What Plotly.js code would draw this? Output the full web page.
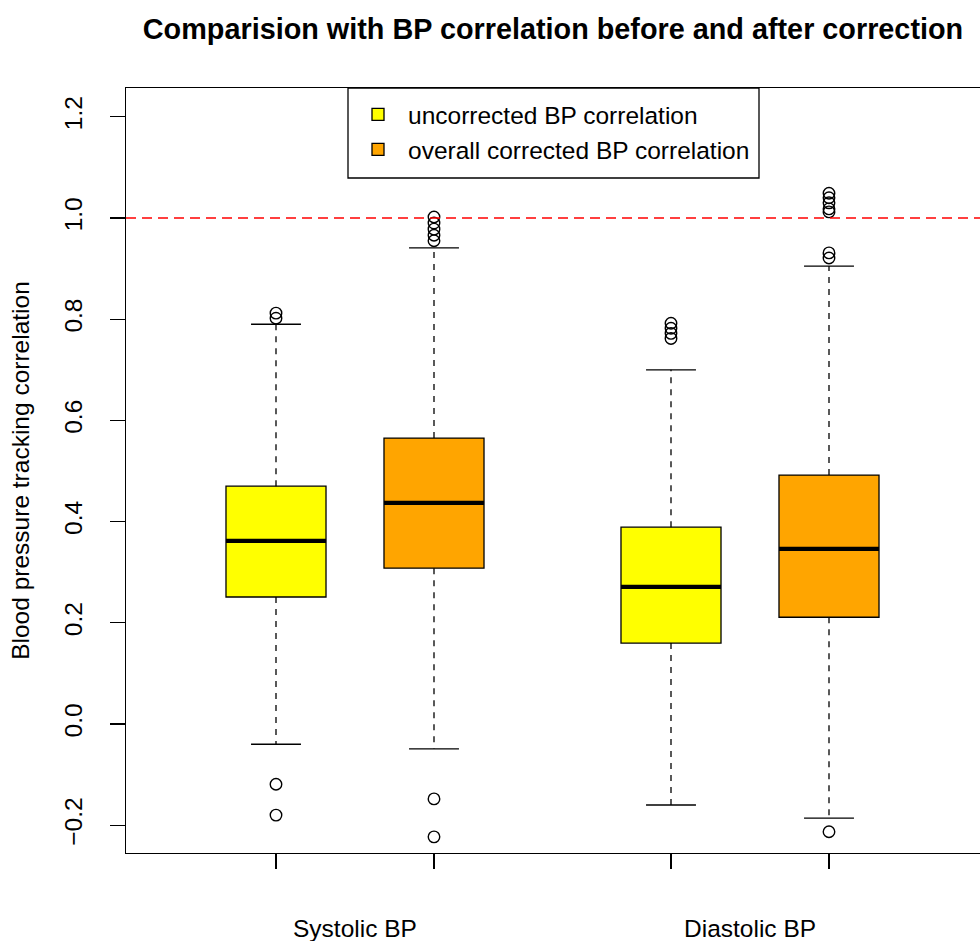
<!DOCTYPE html>
<html>
<head>
<meta charset="utf-8">
<script src="https://cdn.plot.ly/plotly-3.0.1.min.js"></script>
<style>
  html, body { margin: 0; padding: 0; background: #ffffff; }
  #chart { width: 980px; height: 941px; }
</style>
</head>
<body>
<div id="chart"></div>
<script>
// Group labels along the x axis and where they sit
const groups = ['Systolic BP', 'Diastolic BP'];
const groupCenters = [1.5, 4.0];

// Two series: uncorrected vs. corrected correlation
const seriesNames = ['uncorrected BP correlation', 'overall corrected BP correlation'];
const seriesColors = ['#FFFF00', '#FFA500'];
// Box positions per series: [Systolic, Diastolic]
const positions = [[1, 3.5], [2, 4.5]];

// Box statistics per series: [Systolic, Diastolic]
const q1 = [[0.251, 0.160], [0.308, 0.211]];
const medians = [[0.362, 0.271], [0.437, 0.346]];
const q3 = [[0.470, 0.389], [0.565, 0.492]];
const lowerWhisker = [[-0.040, -0.160], [-0.049, -0.186]];
const upperWhisker = [[0.790, 0.700], [0.941, 0.905]];

// Outlying values per series and group
const outliers = [
  [[0.812, 0.802, -0.119, -0.180], [0.792, 0.782, 0.772, 0.762]],
  [[1.002, 0.990, 0.978, 0.966, 0.955, -0.148, -0.223],
   [1.049, 1.040, 1.030, 1.018, 1.012, 0.931, 0.921, -0.213]]
];

const yTicks = [-0.2, 0.0, 0.2, 0.4, 0.6, 0.8, 1.0, 1.2];
const referenceLevel = 1.0;

// Drawing constants
const FONT = 'Liberation Sans, Arial, Helvetica, sans-serif';
const BOX_W = 0.633;       // box width in x units
const CAP_HALF = 0.158;    // whisker cap half-width in x units
const LW = 1.3;

const traces = [];

// Dashed whiskers and solid caps
positions.forEach((pos, s) => {
  const wx = [], wy = [], cx = [], cy = [];
  pos.forEach((p, g) => {
    wx.push(p, p, null, p, p, null);
    wy.push(q3[s][g], upperWhisker[s][g], null, q1[s][g], lowerWhisker[s][g], null);
    cx.push(p - CAP_HALF, p + CAP_HALF, null, p - CAP_HALF, p + CAP_HALF, null);
    cy.push(upperWhisker[s][g], upperWhisker[s][g], null, lowerWhisker[s][g], lowerWhisker[s][g], null);
  });
  traces.push({
    type: 'scatter', mode: 'lines', x: wx, y: wy, showlegend: false, hoverinfo: 'skip',
    line: { color: '#000000', width: LW, dash: '6px,6px' }
  });
  traces.push({
    type: 'scatter', mode: 'lines', x: cx, y: cy, showlegend: false, hoverinfo: 'skip',
    line: { color: '#000000', width: LW }
  });
});

// Boxes (quartile bodies)
positions.forEach((pos, s) => {
  traces.push({
    type: 'box',
    name: seriesNames[s],
    x: pos,
    q1: q1[s],
    median: medians[s],
    q3: q3[s],
    lowerfence: q1[s],
    upperfence: q3[s],
    width: BOX_W,
    whiskerwidth: 0,
    boxpoints: false,
    fillcolor: seriesColors[s],
    line: { color: '#000000', width: LW },
    hoverinfo: 'skip'
  });
});

// Thick median bars
positions.forEach((pos, s) => {
  const mx = [], my = [];
  pos.forEach((p, g) => {
    mx.push(p - BOX_W / 2, p + BOX_W / 2, null);
    my.push(medians[s][g], medians[s][g], null);
  });
  traces.push({
    type: 'scatter', mode: 'lines', x: mx, y: my, showlegend: false, hoverinfo: 'skip',
    line: { color: '#000000', width: 4.2 }
  });
});

// Outlier points
positions.forEach((pos, s) => {
  const ox = [], oy = [];
  pos.forEach((p, g) => {
    outliers[s][g].forEach(v => { ox.push(p); oy.push(v); });
  });
  traces.push({
    type: 'scatter', mode: 'markers', x: ox, y: oy, showlegend: false, hoverinfo: 'skip',
    marker: { symbol: 'circle-open', size: 11.5, color: '#000000', line: { width: 1.4, color: '#000000' } }
  });
});

const tickVals = positions[0].concat(positions[1]).sort((a, b) => a - b);

// Legend frame (pixel box converted to paper units of the plot area)
const PLOT = { l: 126, t: 88, w: 854, h: 765 };
const legendFrame = { x0: 348, x1: 759, y0: 88, y1: 178 };
const px2x = px => (px - PLOT.l) / PLOT.w;
const px2y = py => 1 - (py - PLOT.t) / PLOT.h;

const layout = {
  width: 980,
  height: 941,
  paper_bgcolor: '#ffffff',
  plot_bgcolor: '#ffffff',
  font: { family: FONT, color: '#000000', size: 24.5 },
  margin: { l: PLOT.l, r: 0, t: PLOT.t, b: 88 },
  showlegend: true,
  title: {
    text: '<b>Comparision with BP correlation before and after correction</b>',
    font: { family: FONT, size: 28.8, color: '#000000' },
    x: 0.5, xref: 'paper', xanchor: 'center',
    y: 1 - 29 / 941, yref: 'container', yanchor: 'middle'
  },
  xaxis: {
    range: [1 - 150 / 158, 1 + (980 - 276) / 158],
    tickvals: tickVals,
    ticktext: tickVals.map(() => ''),
    ticks: 'outside', ticklen: 15, tickwidth: LW, tickcolor: '#000000',
    showline: true, linecolor: '#000000', linewidth: LW, mirror: true,
    showgrid: false, zeroline: false, fixedrange: true
  },
  yaxis: {
    range: [-0.2549, 1.2569],
    tickvals: yTicks,
    tickformat: '.1f',
    tickangle: -90,
    ticks: 'outside', ticklen: 15, tickwidth: LW, tickcolor: '#000000',
    ticklabelstandoff: 18,
    tickfont: { family: FONT, size: 24.5, color: '#000000' },
    showline: true, linecolor: '#000000', linewidth: LW,
    showgrid: false, zeroline: false, fixedrange: true,
    title: {
      text: 'Blood pressure tracking correlation',
      font: { family: FONT, size: 24.5, color: '#000000' },
      standoff: 23
    }
  },
  legend: {
    x: px2x(legendFrame.x0), y: px2y(legendFrame.y0 + 4), xanchor: 'left', yanchor: 'top',
    bgcolor: 'rgba(0,0,0,0)', borderwidth: 0,
    itemwidth: 50,
    font: { family: FONT, size: 24.5, color: '#000000' },
    traceorder: 'normal'
  },
  shapes: [
    {
      type: 'line', xref: 'paper', x0: 0, x1: 1, yref: 'y', y0: referenceLevel, y1: referenceLevel,
      line: { color: '#FF0000', width: LW, dash: '10px,6px' }
    },
    {
      type: 'rect', xref: 'paper', yref: 'paper',
      x0: px2x(legendFrame.x0), x1: px2x(legendFrame.x1),
      y0: px2y(legendFrame.y1), y1: px2y(legendFrame.y0),
      fillcolor: '#ffffff', line: { color: '#000000', width: LW }
    }
  ],
  annotations: groups.map((g, i) => ({
    text: g, x: groupCenters[i], xref: 'x', y: -(928 - 853) / 765, yref: 'paper',
    xanchor: 'center', yanchor: 'middle', showarrow: false,
    font: { family: FONT, size: 24.5, color: '#000000' }
  }))
};

Plotly.newPlot('chart', traces, layout, { displayModeBar: false, staticPlot: true });
</script>
</body>
</html>
